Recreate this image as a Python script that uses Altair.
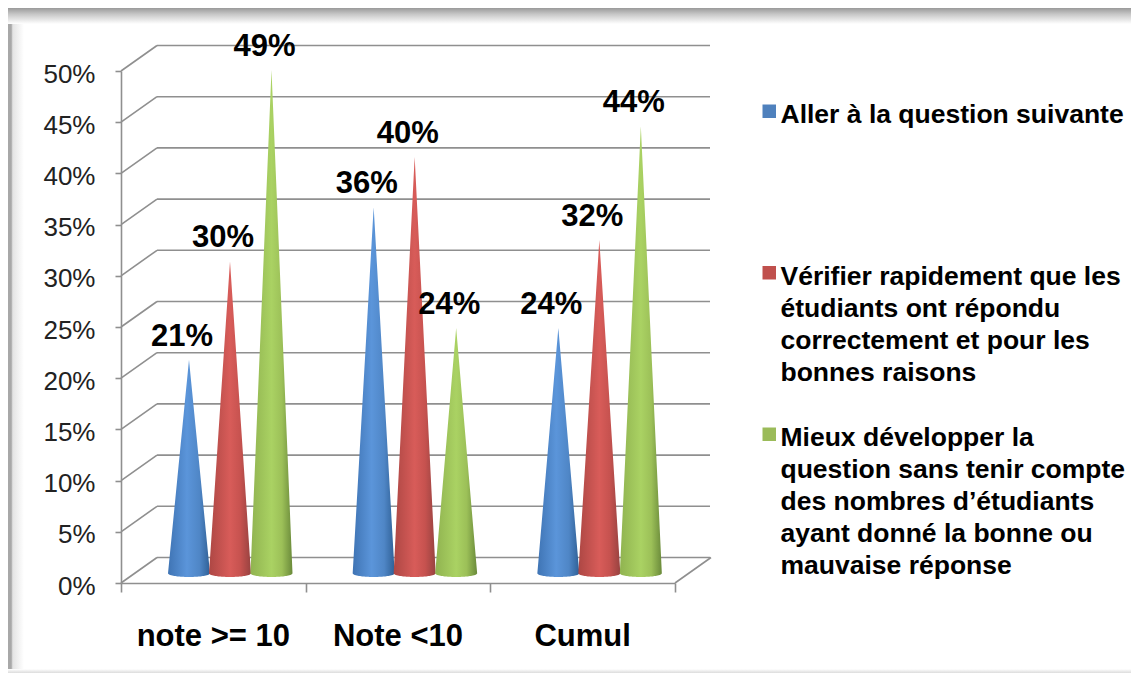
import math
import altair as alt
import pandas as pd

categories = ["note >= 10", "Note <10", "Cumul"]
series = [
    "Aller à la question suivante",
    "Vérifier rapidement que les\nétudiants ont répondu\ncorrectement et pour les\nbonnes raisons",
    "Mieux développer la\nquestion sans tenir compte\ndes nombres d’étudiants\nayant donné la bonne ou\nmauvaise réponse",
]
legend_colors = ["#4f81bd", "#c0504d", "#9bbb59"]
values = [
    [21.0, 30.6, 49.3],
    [35.9, 40.8, 24.1],
    [24.1, 32.7, 43.8],
]
labels = [
    ["21%", "30%", "49%"],
    ["36%", "40%", "24%"],
    ["24%", "32%", "44%"],
]
ticks_y = [0, 5, 10, 15, 20, 25, 30, 35, 40, 45, 50]
stops = [
    [("#3f74b4", 0), ("#5b95da", 0.45), ("#4f86c6", 0.75), ("#2f6096", 1)],
    [("#ad4744", 0), ("#d85c59", 0.5), ("#c6524f", 0.75), ("#974240", 1)],
    [("#90b350", 0), ("#aad263", 0.5), ("#9cc058", 0.75), ("#6a8a3a", 1)],
]

W, H = 554, 512
DEPTH_X, DEPTH_Y = 36 / 184.67, 25.5 / 10.24
GRAY = "#8f8f8f"
FONT = "Liberation Sans"
xs = alt.Scale(domain=[0, 3], nice=False, zero=False)
ys = alt.Scale(domain=[0, 50], nice=False, zero=False)


def grad(colors, horizontal=True):
    g = dict(gradient="linear", stops=[alt.GradientStop(color=c, offset=o) for c, o in colors])
    if horizontal:
        g.update(x1=0, x2=1, y1=0, y2=0)
    else:
        g.update(x1=0, x2=0, y1=0, y2=1)
    return alt.LinearGradient(**g)


one = pd.DataFrame({"a": [0]})
# picture frame, in pixels relative to the plot area (origin 121, 71 on the page)
def frame(x0, x1, y0, y1, colors, horizontal):
    return alt.Chart(one).mark_rect(color=grad(colors, horizontal)).encode(
        x=alt.value(x0 - 121), x2=alt.value(x1 - 121), y=alt.value(y0 - 71), y2=alt.value(y1 - 71)
    )


layers = [
    frame(8, 24, 8, 673, [("#a8a8a8", 0), ("#a8a8a8", 0.2), ("#e4e4e4", 0.3), ("#ffffff", 1)], True),
    frame(8, 1131, 8, 24, [("#9a9a9a", 0), ("#c8c8c8", 0.4), ("#ffffff", 1)], False),
    frame(8, 1131, 669, 673, [("#ffffff", 0), ("#dcdcdc", 1)], False),
]

grid = pd.DataFrame({"v": ticks_y})
axis_layer = alt.Chart(grid).mark_rule(color=GRAY, strokeWidth=1.6).encode(
    y=alt.Y("v:Q", scale=ys, title=None, axis=alt.Axis(
        values=ticks_y, grid=False, labelExpr="datum.value + '%'", labelFont=FONT, labelFontSize=26,
        labelColor="#222222", labelPadding=18, labelOffset=12, tickColor=GRAY, tickWidth=1.6, tickSize=6,
        domainColor=GRAY, domainWidth=1.6)),
    x=alt.value(36), x2=alt.value(589), yOffset=alt.value(-25.5),
)
layers.append(axis_layer)

for col_x0, col_x1, flt in [(0, DEPTH_X, "true"), (3, 3 + DEPTH_X, "datum.v == 0")]:
    d = pd.DataFrame({"v": ticks_y, "x0": col_x0, "x1": col_x1})
    layers.append(
        alt.Chart(d).transform_filter(flt).transform_calculate(v2="datum.v + %f" % DEPTH_Y)
        .mark_rule(color=GRAY, strokeWidth=1.6)
        .encode(
            x=alt.X("x0:Q", scale=xs, title=None, axis=alt.Axis(
                values=[0, 1, 2, 3], labels=False, grid=False, tickColor=GRAY, tickWidth=1.6, tickSize=9,
                domainColor=GRAY, domainWidth=1.6)),
            x2="x1:Q",
            y=alt.Y("v:Q", scale=ys, title=None),
            y2="v2:Q",
        )
    )

# cones
OFFSETS = [68 / 184.67, 109 / 184.67, 150.5 / 184.67]
HALF = 21 / 184.67
BASE, ELL, DEPTH = 0.93, 0.34, 0.8
label_rows = []
for i, group in enumerate(values):
    for j, v in enumerate(group):
        cx = i + OFFSETS[j]
        tip = v + DEPTH
        rows = []
        for k in range(-20, 21):
            t = k / 20
            rows.append({
                "x": cx + t * HALF,
                "top": BASE + (tip - BASE) * (1 - abs(t)),
                "bot": BASE - ELL * math.sqrt(1 - t * t),
            })
        layers.append(
            alt.Chart(pd.DataFrame(rows)).mark_area(color=grad(stops[j])).encode(
                x=alt.X("x:Q", scale=xs),
                y=alt.Y("top:Q", scale=ys),
                y2="bot:Q",
            )
        )
        label_rows.append({"x": cx, "y": tip, "t": labels[i][j], "s": series[j]})

labs = pd.DataFrame(label_rows)
layers.append(
    alt.Chart(labs).mark_text(font=FONT, fontWeight="bold", fontSize=31, dx=-7, dy=-23, color="#000000").encode(
        x=alt.X("x:Q", scale=xs), y=alt.Y("y:Q", scale=ys), text="t:N"
    )
)
layers.append(
    alt.Chart(labs).mark_square(opacity=0, size=1).encode(
        x=alt.X("x:Q", scale=xs), y=alt.Y("y:Q", scale=ys),
        color=alt.Color("s:N", scale=alt.Scale(domain=series, range=legend_colors), title=None, sort=None,
                        legend=alt.Legend(
                            orient="none", legendX=635, legendY=27, symbolType="square", symbolSize=182,
                            symbolOpacity=1, symbolStrokeWidth=0, labelFont=FONT, labelFontSize=26.5, labelFontWeight="bold",
                            labelColor="#000000", labelLimit=500, labelOffset=0, labelBaseline="top",
                            labelExpr="split(datum.label, '\\n')", gridAlign="all", rowPadding=2.5,
                        )),
    )
)
cat = pd.DataFrame({"x": [0.5, 1.5, 2.5], "c": categories})
layers.append(
    alt.Chart(cat).mark_text(font=FONT, fontWeight="bold", fontSize=31, color="#000000").encode(
        x=alt.X("x:Q", scale=xs), y=alt.value(566), text="c:N"
    )
)

chart = alt.layer(*layers).properties(
    width=W, height=H, autosize=alt.AutoSizeParams(type="none"),
    padding={"left": 113, "top": 63, "right": 456, "bottom": 90},
).configure(
    view=alt.ViewConfig(stroke=None),
    style={"guide-label": {"lineHeight": 32, "dy": -9, "dx": -2}},
)
chart.save("out.html", embed_options={"renderer": "svg", "actions": False})
